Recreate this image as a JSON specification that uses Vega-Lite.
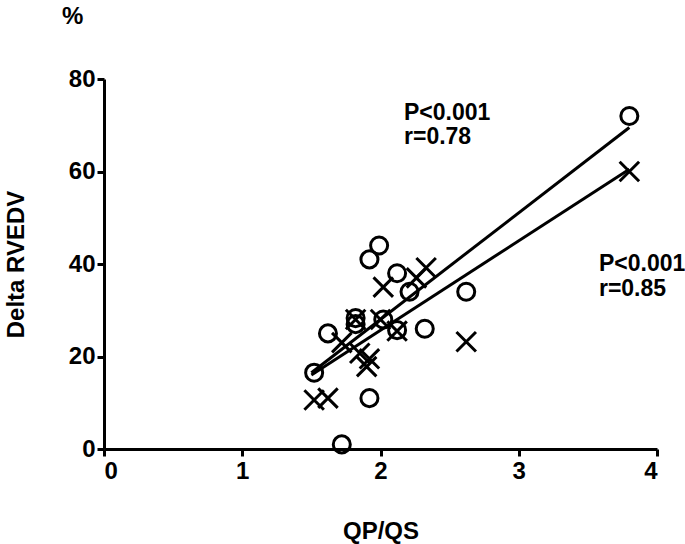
{
  "$schema": "https://vega.github.io/schema/vega-lite/v6.json",
  "width": 553,
  "height": 370,
  "autosize": {"type": "none"},
  "padding": {"left": 104, "top": 79, "right": 28, "bottom": 95},
  "background": "white",
  "title": {"text": "%", "anchor": "start", "frame": "group", "dx": -42, "offset": 38, "fontSize": 24, "font": "Liberation Sans", "fontWeight": "bold", "color": "black"},
  "config": {
    "view": {"stroke": null},
    "axis": {
      "grid": false,
      "domainColor": "black",
      "domainWidth": 3,
      "tickColor": "black",
      "tickWidth": 3,
      "tickSize": 7,
      "labelFont": "Liberation Sans",
      "labelFontWeight": "bold",
      "labelFontSize": 24,
      "labelColor": "black",
      "titleFont": "Liberation Sans",
      "titleFontWeight": "bold",
      "titleFontSize": 24,
      "titleColor": "black"
    }
  },
  "datasets": {
    "pts": [
      {"x": 3.8, "y": 72, "group": "A"},
      {"x": 1.52, "y": 16.5, "group": "A"},
      {"x": 1.72, "y": 1, "group": "A"},
      {"x": 1.62, "y": 25, "group": "A"},
      {"x": 1.82, "y": 27, "group": "A"},
      {"x": 1.82, "y": 28.3, "group": "A"},
      {"x": 1.92, "y": 41, "group": "A"},
      {"x": 1.99, "y": 44, "group": "A"},
      {"x": 2.12, "y": 38, "group": "A"},
      {"x": 2.21, "y": 34, "group": "A"},
      {"x": 2.02, "y": 28, "group": "A"},
      {"x": 2.12, "y": 25.7, "group": "A"},
      {"x": 2.32, "y": 26, "group": "A"},
      {"x": 2.62, "y": 34, "group": "A"},
      {"x": 1.92, "y": 11, "group": "A"},
      {"x": 3.8, "y": 60, "group": "B"},
      {"x": 2.33, "y": 39.2, "group": "B"},
      {"x": 2.26, "y": 37, "group": "B"},
      {"x": 2.02, "y": 35, "group": "B"},
      {"x": 1.82, "y": 28, "group": "B"},
      {"x": 2.0, "y": 28, "group": "B"},
      {"x": 2.12, "y": 25.5, "group": "B"},
      {"x": 1.72, "y": 23, "group": "B"},
      {"x": 1.85, "y": 20.7, "group": "B"},
      {"x": 1.92, "y": 19.5, "group": "B"},
      {"x": 1.9, "y": 17.8, "group": "B"},
      {"x": 2.62, "y": 23.2, "group": "B"},
      {"x": 1.52, "y": 10.6, "group": "B"},
      {"x": 1.62, "y": 11, "group": "B"}
    ],
    "fits": [
      {"x": 1.5, "y": 16.5, "group": "A"},
      {"x": 3.8, "y": 69.5, "group": "A"},
      {"x": 1.5, "y": 16, "group": "B"},
      {"x": 3.8, "y": 60.5, "group": "B"}
    ],
    "notes": [
      {"x": 2.17, "y": 72.6, "label": "P<0.001"},
      {"x": 2.17, "y": 67.4, "label": "r=0.78"},
      {"x": 3.58, "y": 39.9, "label": "P<0.001"},
      {"x": 3.58, "y": 34.7, "label": "r=0.85"}
    ]
  },
  "layer": [
    {
      "data": {"name": "fits"},
      "mark": {"type": "line", "color": "black", "strokeWidth": 3},
      "encoding": {
        "x": {"field": "x", "type": "quantitative", "scale": {"domain": [0, 4], "nice": false}, "axis": {"values": [0, 1, 2, 3, 4], "format": "d", "title": "QP/QS", "titlePadding": 36, "labelPadding": 3}},
        "y": {"field": "y", "type": "quantitative", "scale": {"domain": [0, 80], "nice": false}, "axis": {"values": [0, 20, 40, 60, 80], "format": "d", "title": "Delta RVEDV", "titlePadding": 40, "labelPadding": 2}},
        "detail": {"field": "group"}
      }
    },
    {
      "data": {"name": "pts"},
      "transform": [{"filter": "datum.group === 'A'"}],
      "mark": {"type": "point", "shape": "circle", "filled": false, "size": 290, "strokeWidth": 3, "color": "black", "opacity": 1},
      "encoding": {
        "x": {"field": "x", "type": "quantitative"},
        "y": {"field": "y", "type": "quantitative"}
      }
    },
    {
      "data": {"name": "pts"},
      "transform": [{"filter": "datum.group === 'B'"}],
      "mark": {"type": "point", "shape": "M-1,-1L1,1M-1,1L1,-1", "filled": false, "size": 380, "strokeWidth": 3, "color": "black", "opacity": 1},
      "encoding": {
        "x": {"field": "x", "type": "quantitative"},
        "y": {"field": "y", "type": "quantitative"}
      }
    },
    {
      "data": {"name": "notes"},
      "mark": {"type": "text", "align": "left", "baseline": "middle", "font": "Liberation Sans", "fontWeight": "bold", "fontSize": 23, "color": "black"},
      "encoding": {
        "x": {"field": "x", "type": "quantitative"},
        "y": {"field": "y", "type": "quantitative"},
        "text": {"field": "label"}
      }
    }
  ]
}
